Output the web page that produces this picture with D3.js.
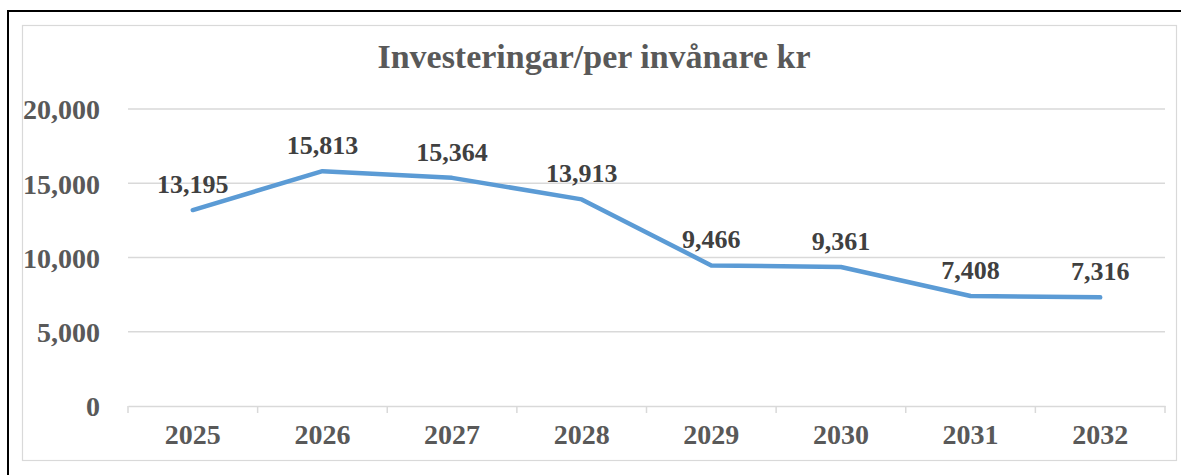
<!DOCTYPE html>
<html><head><meta charset="utf-8">
<script src="https://cdn.jsdelivr.net/npm/d3@7"></script>
<style>
html,body{margin:0;padding:0;background:#fff;}
svg{display:block;}
</style></head>
<body>
<svg id="chart" width="1181" height="475"></svg>
<script>
const categories = ["2025","2026","2027","2028","2029","2030","2031","2032"];
const values = [13195, 15813, 15364, 13913, 9466, 9361, 7408, 7316];
const yTicks = [0, 5000, 10000, 15000, 20000];
const title = "Investeringar/per invånare kr";

(function () {
const svg = d3.select("#chart");
const W = 1181, H = 475;
const font = "'Liberation Serif', 'DejaVu Serif', serif";

svg.append("rect").attr("x", 8).attr("y", 11).attr("width", W + 10).attr("height", H + 10)
  .attr("fill", "#fff").attr("stroke", "#000").attr("stroke-width", 2);
svg.append("rect").attr("x", 22.5).attr("y", 25.5).attr("width", 1154).attr("height", 435)
  .attr("fill", "#fff").attr("stroke", "#d9d9d9").attr("stroke-width", 1.2);

const mLeft = 128, mRight = 1165, mTop = 109, mBottom = 406;
const x = d3.scaleBand().domain(categories).range([mLeft, mRight]);
const y = d3.scaleLinear().domain([0, 20000]).range([mBottom, mTop]);

svg.append("g").selectAll("line").data(yTicks.filter(d => d > 0)).join("line")
  .attr("x1", mLeft).attr("x2", mRight)
  .attr("y1", d => y(d)).attr("y2", d => y(d))
  .attr("stroke", "#d9d9d9").attr("stroke-width", 1.5);

const yAxis = d3.axisLeft(y).tickValues(yTicks).tickSize(0).tickPadding(28)
  .tickFormat(d3.format(","));
const gy = svg.append("g").attr("transform", `translate(${mLeft},0)`).call(yAxis);
gy.select(".domain").remove();
gy.selectAll("text").attr("font-family", font).attr("font-size", 28).attr("font-weight", "bold")
  .attr("fill", "#595959").attr("dy", "0.35em");

const xAxis = d3.axisBottom(x).tickSize(0).tickPadding(24);
const gx = svg.append("g").attr("transform", `translate(0,${mBottom})`).call(xAxis);
gx.select(".domain").attr("stroke", "#d9d9d9").attr("stroke-width", 1.5);
gx.selectAll("text").attr("font-family", font).attr("font-size", 28).attr("font-weight", "bold")
  .attr("fill", "#595959").attr("dy", "0.5em");
const bounds = categories.map(c => x(c)).concat([x.range()[1]]);
svg.append("g").selectAll("line").data(bounds).join("line")
  .attr("x1", d => d).attr("x2", d => d).attr("y1", mBottom).attr("y2", mBottom + 7)
  .attr("stroke", "#d9d9d9").attr("stroke-width", 1.5);

const line = d3.line().x((d, i) => x(categories[i]) + x.bandwidth() / 2).y(d => y(d));
svg.append("path").datum(values).attr("d", line)
  .attr("fill", "none").attr("stroke", "#5b9bd5").attr("stroke-width", 4.5)
  .attr("stroke-linejoin", "round").attr("stroke-linecap", "round");

svg.append("g").selectAll("text").data(values).join("text")
  .attr("x", (d, i) => x(categories[i]) + x.bandwidth() / 2)
  .attr("y", d => y(d) - 17)
  .attr("text-anchor", "middle")
  .attr("font-family", font).attr("font-size", 26).attr("font-weight", "bold")
  .attr("fill", "#404040")
  .text(d => d3.format(",")(d));

svg.append("text").attr("x", 594).attr("y", 68).attr("text-anchor", "middle")
  .attr("font-family", font).attr("font-size", 34).attr("font-weight", "bold")
  .attr("fill", "#595959").text(title);
})();
</script>
</body></html>
